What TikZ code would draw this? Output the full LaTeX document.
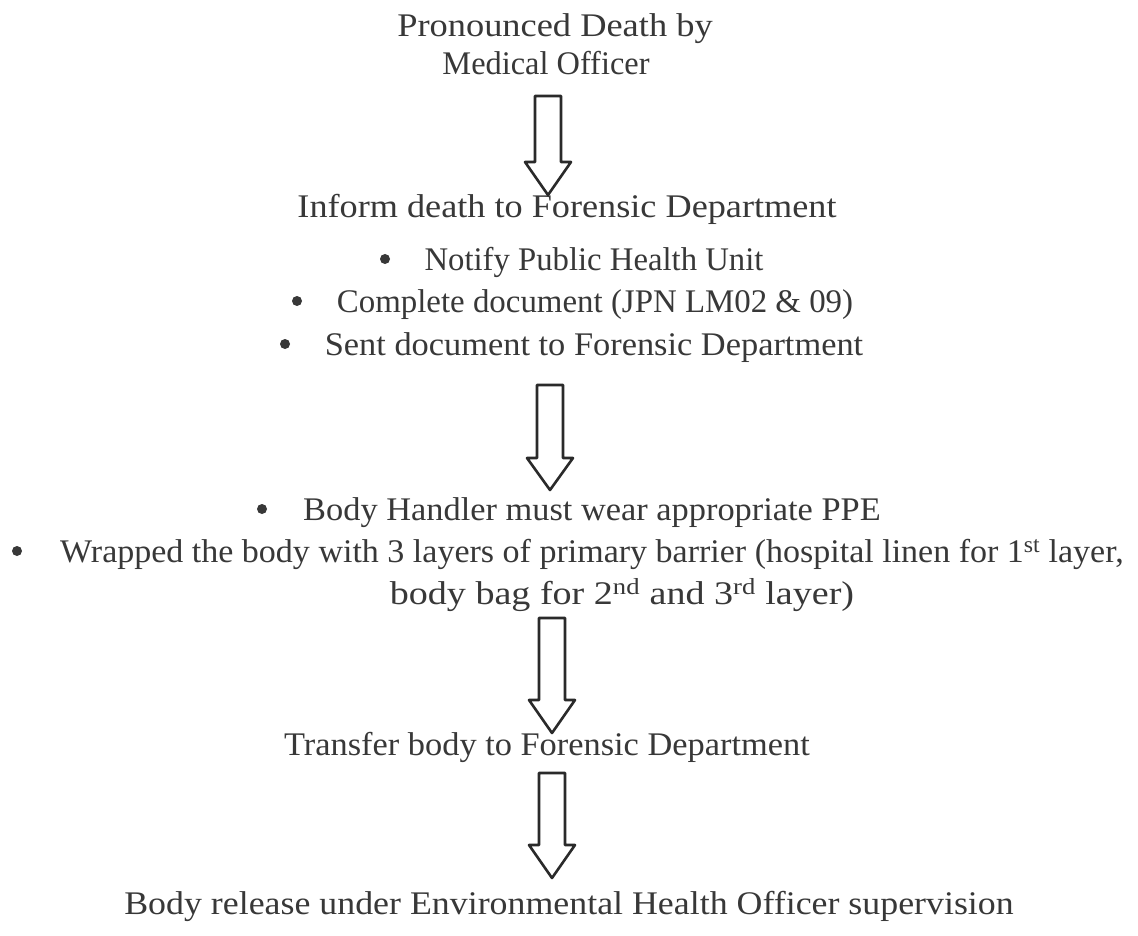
\documentclass[tikz,border=0pt]{standalone}
\usepackage{fontspec}
\setmainfont[FakeStretch=1.12]{Liberation Serif}
\definecolor{textgray}{HTML}{383838}
\definecolor{arrowgray}{HTML}{2A2A2A}
\newcommand{\blockarrow}[3]{% #1 top coordinate, #2 head base offset, #3 tip offset
  \draw[arrowline, shift={(#1)}] (-13,0) -- (13,0) -- (13,#2) -- (23,#2) -- (0,#3) -- (-23,#2) -- (-13,#2) -- cycle;}
\newcommand{\sx}[2]{\scalebox{#1}[1]{#2}}
\begin{document}
\begin{tikzpicture}[x=1pt,y=-1pt,
  txt/.style={inner sep=0pt, anchor=base, font=\fontsize{33}{40}\selectfont, text=textgray},
  bul/.style={circle, fill=textgray, inner sep=0pt, minimum size=10pt},
  arrowline/.style={draw=arrowgray, line width=2.6pt, line join=round, fill=white}]
\useasboundingbox (0,0) rectangle (1138,936);
\fill[white] (0,0) rectangle (1138,936);
% texts
\node[txt] (p1) at (555,37) {\sx{0.985}{Pronounced Death by}};
\node[txt] (p2) at (546,75) {\sx{0.876}{Medical Officer}};
\node[txt] (inform) at (567,218) {\sx{0.98}{Inform death to Forensic Department}};
\node[bul] (b1) at (385,259) {};
\node[txt] (notify) at (594,270) {\sx{0.885}{Notify Public Health Unit}};
\node[bul] (b2) at (297,301) {};
\node[txt] (complete) at (595,312) {\sx{0.89}{Complete document (JPN LM02 \& 09)}};
\node[bul] (b3) at (285,344) {};
\node[txt] (sent) at (594,355) {\sx{0.93}{Sent document to Forensic Department}};
\node[bul] (b4) at (262,509) {};
\node[txt] (handler) at (592,520) {\sx{0.93}{Body Handler must wear appropriate PPE}};
\node[bul] (b5) at (17,551) {};
\node[txt] (wrapped) at (592,562) {\sx{0.92}{Wrapped the body with 3 layers of primary barrier (hospital linen for 1\textsuperscript{st} layer,}};
\node[txt] (bodybag) at (622,604) {\sx{1.03}{body bag for 2\textsuperscript{nd} and 3\textsuperscript{rd} layer)}};
\node[txt] (transfer) at (547,755) {\sx{0.93}{Transfer body to Forensic Department}};
\node[txt] (release) at (569,914) {\sx{0.97}{Body release under Environmental Health Officer supervision}};
% arrows
\coordinate (a1) at (548,96);
\coordinate (a2) at (550,385);
\coordinate (a3) at (552,618);
\coordinate (a4) at (552,773);
\blockarrow{a1}{66}{99}
\blockarrow{a2}{73}{105}
\blockarrow{a3}{82}{115}
\blockarrow{a4}{72}{105}
\end{tikzpicture}
\end{document}
